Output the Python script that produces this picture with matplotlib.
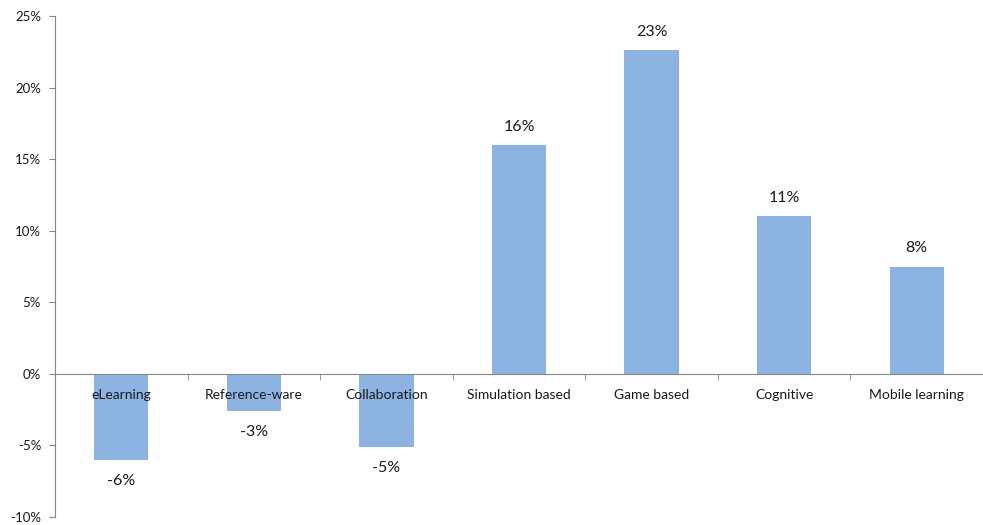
import matplotlib
matplotlib.use("Agg")
import matplotlib.pyplot as plt
from matplotlib.ticker import FuncFormatter, FixedLocator

categories = ["eLearning", "Reference-ware", "Collaboration", "Simulation based",
              "Game based", "Cognitive", "Mobile learning"]
values = [-6.0, -2.6, -5.1, 16.0, 22.6, 11.0, 7.5]
labels = ["-6%", "-3%", "-5%", "16%", "23%", "11%", "8%"]

BAR = "#8DB3E2"
AXIS = "#868686"
TEXT = "#1a1a1a"
plt.rcParams["font.family"] = ["Lato", "DejaVu Sans"]

fig = plt.figure(figsize=(9.83, 5.25), dpi=100)
ax = fig.add_axes([55 / 983, 1 - 517 / 525, 928 / 983, (517 - 16) / 525])

x = range(len(categories))
ax.bar(x, values, width=0.41, color=BAR, zorder=1)

ax.set_xlim(-0.5, len(categories) - 0.5)
ax.set_ylim(-10, 25)
ax.set_yticks(range(-10, 26, 5))
ax.yaxis.set_major_formatter(FuncFormatter(lambda v, _: f"{v:.0f}%"))

for s in ["top", "right"]:
    ax.spines[s].set_visible(False)
ax.spines["left"].set_color(AXIS)
ax.spines["bottom"].set_color(AXIS)
ax.spines["bottom"].set_position(("data", 0))
ax.spines["bottom"].set_zorder(3)
ax.xaxis.set_zorder(4)

ax.tick_params(axis="y", direction="out", length=4, color=AXIS, labelsize=9.5,
               labelcolor=TEXT, pad=6)
ax.set_xticks(list(x))
ax.set_xticklabels(categories)
ax.tick_params(axis="x", which="major", length=0, pad=11, labelsize=10, labelcolor=TEXT)
ax.xaxis.set_minor_locator(FixedLocator([i + 0.5 for i in range(len(categories) - 1)]))
ax.tick_params(axis="x", which="minor", direction="out", length=4, color=AXIS)

for xi, v, lab in zip(x, values, labels):
    if v >= 0:
        ax.annotate(lab, (xi, v), xytext=(0, 8), textcoords="offset points",
                    ha="center", va="bottom", fontsize=11.5, color=TEXT)
    else:
        ax.annotate(lab, (xi, v), xytext=(0, -10), textcoords="offset points",
                    ha="center", va="top", fontsize=11.5, color=TEXT)

fig.savefig("out.png", dpi=100)
